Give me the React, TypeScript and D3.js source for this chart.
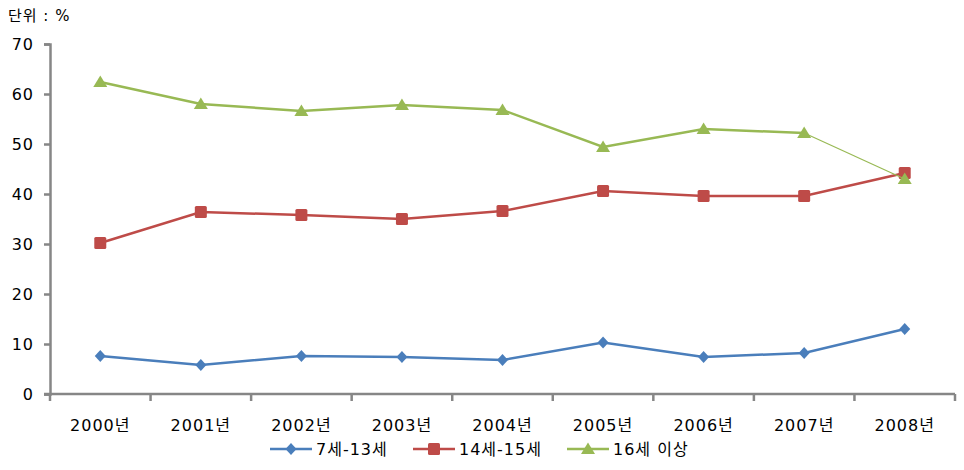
import * as d3 from "d3";
import {useEffect, useRef} from "react";

const years = ["2000년", "2001년", "2002년", "2003년", "2004년", "2005년", "2006년", "2007년", "2008년"];
const age7to13 = [7.6, 5.8, 7.6, 7.4, 6.8, 10.3, 7.4, 8.2, 13.0];
const age14to15 = [30.2, 36.4, 35.8, 35.0, 36.6, 40.6, 39.6, 39.6, 44.2];
const age16plus = [62.4, 58.0, 56.6, 57.8, 56.8, 49.4, 53.0, 52.2, 43.0];
const yTicks = [0, 10, 20, 30, 40, 50, 60, 70];

const seriesNames = ["7세-13세", "14세-15세", "16세 이상"];
const colors = ["#4a7ebb", "#be4b48", "#98b954"];
const shapes = ["diamond", "square", "triangle"];

const FONT = "'DejaVu Sans', 'Noto Sans CJK KR', sans-serif";
const SPACING = 1;
const FS = 16;

function drawMarker(g, shape, x, y, color) {
    if (shape === "diamond") {
        g.append("path")
            .attr("d", `M${x},${y - 6}L${x + 5.5},${y}L${x},${y + 6}L${x - 5.5},${y}Z`)
            .attr("fill", color);
    } else if (shape === "square") {
        g.append("rect")
            .attr("x", x - 6).attr("y", y - 6)
            .attr("width", 12).attr("height", 12)
            .attr("rx", 1.5)
            .attr("fill", color);
    } else {
        g.append("path")
            .attr("d", `M${x},${y - 6.5}L${x + 7},${y + 5}L${x - 7},${y + 5}Z`)
            .attr("fill", color);
    }
}

function LineChart() {
    const svgRef = useRef(null);

    useEffect(() => {
        const svg = d3.select(svgRef.current);
        svg.selectAll("*").remove();

        const left = 50, right = 955, top = 44, bottom = 394;

        const x = d3.scaleBand().domain(years).range([left, right]);
        const y = d3.scaleLinear().domain([0, 70]).range([bottom, top]);
        const cx = d => x(d) + x.bandwidth() / 2;

        // unit label
        svg.append("text")
            .attr("x", 8).attr("y", 21)
            .attr("font-family", FONT).attr("font-size", 15)
            .attr("letter-spacing", SPACING)
            .attr("fill", "#000")
            .text("단위 : %");

        // y axis
        const yAxis = svg.append("g")
            .attr("transform", `translate(${left},0)`)
            .call(d3.axisLeft(y).tickValues(yTicks).tickSize(6).tickPadding(10));
        yAxis.select(".domain").attr("stroke", "#868686").attr("stroke-width", 2.5);
        yAxis.selectAll(".tick line").attr("stroke", "#868686").attr("stroke-width", 2.5);
        yAxis.selectAll(".tick text")
            .attr("font-family", FONT).attr("font-size", FS)
            .attr("letter-spacing", SPACING).attr("fill", "#000");

        // x axis with ticks at category boundaries
        const xAxis = svg.append("g")
            .attr("transform", `translate(0,${bottom})`);
        xAxis.append("line")
            .attr("x1", left - 6).attr("x2", right)
            .attr("stroke", "#868686").attr("stroke-width", 2.5);
        const bounds = years.map(d => x(d)).concat([right]);
        xAxis.selectAll("line.tk")
            .data(bounds)
            .enter()
            .append("line")
            .attr("class", "tk")
            .attr("x1", d => d).attr("x2", d => d)
            .attr("y1", 0).attr("y2", 7)
            .attr("stroke", "#868686").attr("stroke-width", 2.5);
        xAxis.selectAll("text")
            .data(years)
            .enter()
            .append("text")
            .attr("x", d => cx(d))
            .attr("y", 37)
            .attr("text-anchor", "middle")
            .attr("font-family", FONT).attr("font-size", FS)
            .attr("letter-spacing", SPACING)
            .attr("fill", "#000")
            .text(d => d);

        const allSeries = [age7to13, age14to15, age16plus];
        const line = d3.line().x((d, i) => cx(years[i])).y(d => y(d));

        allSeries.forEach((vals, si) => {
            const g = svg.append("g");
            if (si === 2) {
                // last segment drawn thin, as in the original
                g.append("path")
                    .attr("d", line(vals.slice(0, vals.length - 1)))
                    .attr("fill", "none").attr("stroke", colors[si]).attr("stroke-width", 2.5);
                const n = vals.length;
                g.append("line")
                    .attr("x1", cx(years[n - 2])).attr("y1", y(vals[n - 2]))
                    .attr("x2", cx(years[n - 1])).attr("y2", y(vals[n - 1]))
                    .attr("stroke", colors[si]).attr("stroke-width", 1.2);
            } else {
                g.append("path")
                    .attr("d", line(vals))
                    .attr("fill", "none").attr("stroke", colors[si]).attr("stroke-width", 2.5);
            }
            vals.forEach((v, i) => drawMarker(g, shapes[si], cx(years[i]), y(v), colors[si]));
        });

        // legend
        const legendX = [270, 413, 567];
        const ly = 449;
        seriesNames.forEach((name, si) => {
            const g = svg.append("g");
            g.append("line")
                .attr("x1", legendX[si]).attr("x2", legendX[si] + 42)
                .attr("y1", ly).attr("y2", ly)
                .attr("stroke", colors[si]).attr("stroke-width", 2.5);
            drawMarker(g, shapes[si], legendX[si] + 21, ly, colors[si]);
            g.append("text")
                .attr("x", legendX[si] + 46).attr("y", ly + 6)
                .attr("font-family", FONT).attr("font-size", FS)
                .attr("letter-spacing", SPACING)
                .attr("fill", "#000")
                .text(name);
        });
    }, []);

    return (
        <svg ref={svgRef} width={964} height={470} style={{display: "block"}}></svg>
    );
}

export default function App() {
    return (
        <div style={{position: "absolute", left: 0, top: 0, background: "#fff"}}>
            <LineChart/>
        </div>
    );
}
